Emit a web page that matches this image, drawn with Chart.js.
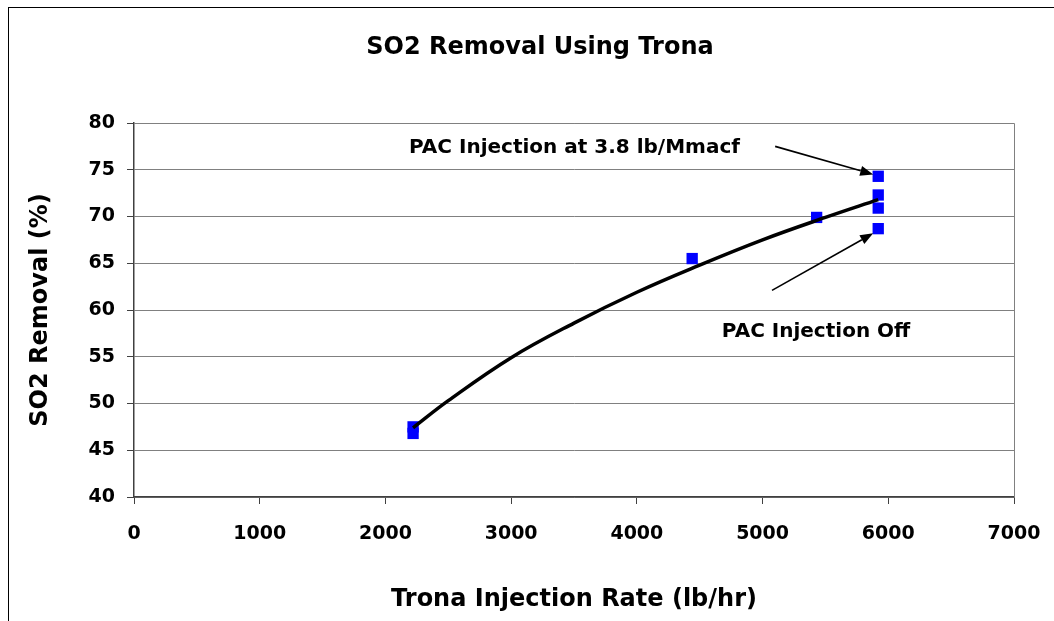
<!DOCTYPE html>
<html>
<head>
<meta charset="utf-8">
<title>SO2 Removal Using Trona</title>
<script src="https://cdn.jsdelivr.net/npm/chart.js@4.4.1/dist/chart.umd.min.js"></script>
<style>
  html, body { margin: 0; padding: 0; background: #fff; }
  canvas { display: block; }
</style>
</head>
<body>
<canvas id="so2Chart" width="1054" height="621"></canvas>
<script>
'use strict';

/* ── Data ─────────────────────────────────── */
// measured points (lb/hr, % removal)
const measuredX = [2220, 2220, 4440, 5430, 5920, 5920, 5920, 5920];
const measuredY = [47.5, 46.8, 65.5, 69.9, 74.3, 72.3, 70.9, 68.7];

// fitted trend line
const trendX = [2220, 2500, 3000, 3500, 4000, 4500, 5000, 5500, 5920];
const trendY = [47.4, 50.3, 54.9, 58.6, 61.9, 64.8, 67.5, 69.9, 71.8];

// texts
const chartTitle = 'SO2 Removal Using Trona';
const noteTexts = ['PAC Injection at 3.8 lb/Mmacf', 'PAC Injection Off'];

/* ── Style ────────────────────────────────── */
const FONT = '"DejaVu Sans", sans-serif';
const AXIS_DARK = '#404040';
const GRID_GREY = '#808080';

Chart.defaults.font.family = FONT;
Chart.defaults.color = '#000';

// callouts in data units: label anchor (right edge), arrow start, arrow tip
const NOTES = [
  { text: noteTexts[0], at: [4820, 77.4], from: [5100, 77.5], to: [5880, 74.5] },
  { text: noteTexts[1], at: [6175, 57.7], from: [5075, 62.1], to: [5880, 68.2] },
];

/* ── Helpers ──────────────────────────────── */
function toPoints(xs, ys) { return xs.map((x, i) => ({ x, y: ys[i] })); }

function drawArrow(ctx, x1, y1, x2, y2) {
  const ang = Math.atan2(y2 - y1, x2 - x1);
  const head = 13, half = 5;
  const bx = x2 - head * Math.cos(ang), by = y2 - head * Math.sin(ang);
  ctx.beginPath();
  ctx.moveTo(x1, y1);
  ctx.lineTo(bx, by);
  ctx.stroke();
  ctx.beginPath();
  ctx.moveTo(x2, y2);
  ctx.lineTo(bx + half * Math.sin(ang), by - half * Math.cos(ang));
  ctx.lineTo(bx - half * Math.sin(ang), by + half * Math.cos(ang));
  ctx.closePath();
  ctx.fill();
}

/* ── Plugins ──────────────────────────────── */
const frame = {
  id: 'frame',
  beforeDraw(chart) {
    const { ctx, width, height } = chart;
    ctx.save();
    ctx.fillStyle = '#fff';
    ctx.fillRect(0, 0, width, height);
    ctx.strokeStyle = '#000';
    ctx.lineWidth = 1;
    ctx.strokeRect(8.5, 7.5, width + 20, height + 20);
    // chart title (centred on the original, wider frame)
    ctx.font = 'bold 24px ' + FONT;
    ctx.fillStyle = '#000';
    ctx.textAlign = 'center';
    ctx.textBaseline = 'middle';
    ctx.fillText(chartTitle, 540, 48);
    ctx.restore();
  },
  beforeDatasetsDraw(chart) {
    const { ctx, chartArea: a } = chart;
    ctx.save();
    ctx.strokeStyle = GRID_GREY;
    ctx.lineWidth = 1;
    ctx.beginPath();
    ctx.moveTo(a.left, Math.round(a.top) + 0.5);
    ctx.lineTo(Math.round(a.right) + 0.5, Math.round(a.top) + 0.5);
    ctx.lineTo(Math.round(a.right) + 0.5, a.bottom);
    ctx.stroke();
    ctx.restore();
  },
};

const callouts = {
  id: 'callouts',
  afterDatasetsDraw(chart) {
    const { ctx, scales: { x, y } } = chart;
    const px = p => [x.getPixelForValue(p[0]), y.getPixelForValue(p[1])];
    ctx.save();
    ctx.font = 'bold 20px ' + FONT;
    ctx.fillStyle = '#000';
    ctx.strokeStyle = '#000';
    ctx.lineWidth = 1.6;
    ctx.textAlign = 'right';
    ctx.textBaseline = 'middle';
    NOTES.forEach(n => {
      const [tx, ty] = px(n.at);
      ctx.fillText(n.text, tx, ty);
      const [x1, y1] = px(n.from);
      const [x2, y2] = px(n.to);
      drawArrow(ctx, x1, y1, x2, y2);
    });
    ctx.restore();
  },
};

/* ── Chart ────────────────────────────────── */
new Chart(document.getElementById('so2Chart').getContext('2d'), {
  type: 'scatter',
  data: {
    datasets: [
      {
        type: 'line',
        label: 'Trend',
        data: toPoints(trendX, trendY),
        borderColor: '#000',
        borderWidth: 3.5,
        pointRadius: 0,
        fill: false,
        tension: 0.4,
        order: 0,
      },
      {
        label: 'SO2 Removal',
        data: toPoints(measuredX, measuredY),
        pointStyle: 'rect',
        pointRadius: 8,
        backgroundColor: '#0000FF',
        borderColor: '#0000FF',
        borderWidth: 0,
        order: 1,
      },
    ],
  },
  options: {
    responsive: false,
    animation: false,
    layout: { padding: { left: 0, right: 40, top: 123, bottom: 0 } },
    plugins: {
      legend: { display: false },
      tooltip: { enabled: false },
      title: { display: false },
    },
    scales: {
      x: {
        type: 'linear',
        position: 'bottom',
        min: 0,
        max: 7000,
        ticks: {
          stepSize: 1000, color: '#000', padding: 19,
          font: { size: 19, weight: 'bold' },
          callback: v => String(v),
        },
        grid: { drawOnChartArea: false, drawTicks: true, tickLength: 7, tickColor: AXIS_DARK },
        border: { color: AXIS_DARK, width: 1.5 },
        title: {
          display: true,
          text: 'Trona Injection Rate (lb/hr)',
          color: '#000',
          font: { size: 24, weight: 'bold' },
          padding: { top: 0, bottom: 7 },
        },
        afterFit: s => { s.height = 124; s.paddingRight = 0; s.paddingLeft = 0; },
      },
      y: {
        type: 'linear',
        min: 40,
        max: 80,
        ticks: { stepSize: 5, color: '#000', padding: 12, font: { size: 19, weight: 'bold' } },
        grid: { color: GRID_GREY, lineWidth: 1, tickLength: 7, tickColor: AXIS_DARK },
        border: { color: AXIS_DARK, width: 1.5 },
        title: {
          display: true,
          text: 'SO2 Removal (%)',
          color: '#000',
          font: { size: 24, weight: 'bold' },
          padding: { top: 26, bottom: 0 },
        },
        afterFit: s => { s.width = 134; s.paddingTop = 0; s.paddingBottom = 0; },
      },
    },
  },
  plugins: [frame, callouts],
});
</script>
</body>
</html>
